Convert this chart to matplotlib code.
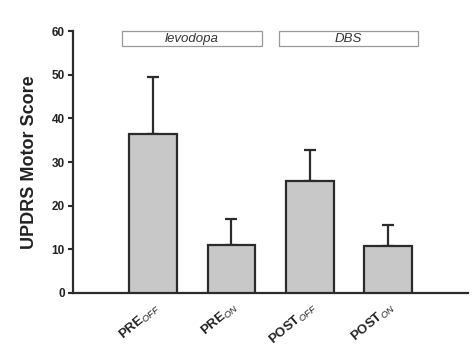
import numpy as np
import matplotlib.pyplot as plt
from matplotlib import font_manager
from matplotlib.patches import Rectangle

# keep the narrow Liberation faces out of the font lookup
font_manager.fontManager.ttflist = [f for f in font_manager.fontManager.ttflist
                                    if 'Narrow' not in f.fname]

plt.rcParams['font.family'] = ['Liberation Sans', 'DejaVu Sans']
plt.rcParams['mathtext.fontset'] = 'custom'
plt.rcParams['mathtext.rm'] = 'Liberation Sans:bold'
plt.rcParams['mathtext.it'] = 'Liberation Sans:italic'

labels = [r'PRE$_{\mathit{OFF}}$', r'PRE$_{\mathit{ON}}$',
          r'POST$_{\mathit{OFF}}$', r'POST$_{\mathit{ON}}$']
means = [36.4, 11.1, 25.6, 10.8]
sd = [13.1, 5.8, 7.1, 4.7]

groups = ['levodopa', 'DBS']
group_span = [(-0.40, 1.39), (1.61, 3.38)]

edge = '#2b2b2b'

fig = plt.figure(figsize=(4.77, 3.58), dpi=100)
ax = fig.add_axes([0.152, 0.1816, 0.829, 0.7314])

x = np.arange(len(means))
ax.bar(x, means, width=0.61, color='#c8c8c8', edgecolor=edge, linewidth=1.6, zorder=3)
ax.errorbar(x, means, yerr=[np.zeros(len(sd)), sd], fmt='none', ecolor=edge,
            elinewidth=1.6, capsize=4, capthick=1.6, zorder=2)

for name, (x0, x1) in zip(groups, group_span):
    ax.add_patch(Rectangle((x0, 56.6), x1 - x0, 3.4, facecolor='white',
                           edgecolor='#999999', linewidth=0.9, clip_on=False, zorder=4))
    ax.text((x0 + x1) / 2, 58.3, name, ha='center', va='center', fontsize=9.5,
            style='italic', color='#333333', zorder=5)

ax.set_xlim(-1.03, 4.02)
ax.set_ylim(0, 60)
ax.set_yticks([0, 10, 20, 30, 40, 50, 60])
ax.set_xticks(x)
ax.set_xticklabels(labels, rotation=40, ha='right', rotation_mode='anchor',
                   fontsize=9.5, fontweight='bold', color='#222222')
ax.tick_params(axis='x', length=0, pad=5)
ax.tick_params(axis='y', length=3.5, width=1.5, color=edge, labelsize=8.5, pad=2, labelcolor='#222222')
for t in ax.get_yticklabels():
    t.set_fontweight('bold')

ax.set_ylabel('UPDRS Motor Score', fontsize=13, fontweight='bold', color='#222222', labelpad=10)

ax.spines['top'].set_visible(False)
ax.spines['right'].set_visible(False)
ax.spines['left'].set_linewidth(1.6)
ax.spines['bottom'].set_linewidth(1.6)
ax.spines['left'].set_color(edge)
ax.spines['bottom'].set_color(edge)

fig.savefig('out.png', dpi=100)
